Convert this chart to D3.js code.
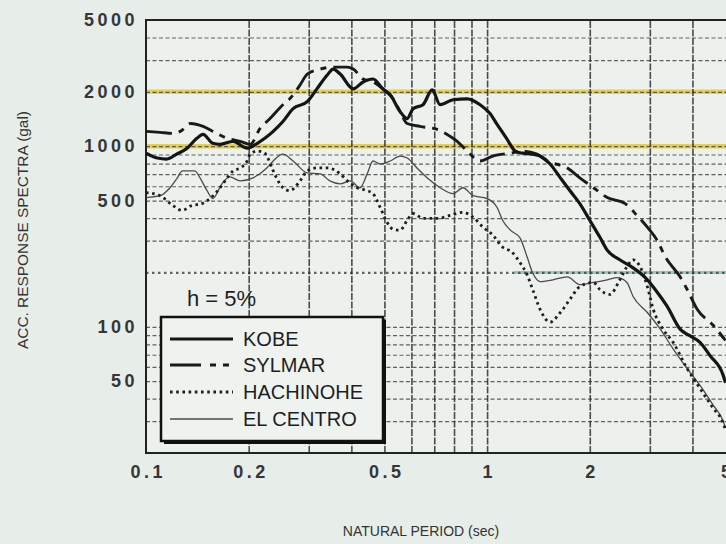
<!DOCTYPE html>
<html>
<head>
<meta charset="utf-8">
<script src="https://cdn.jsdelivr.net/npm/d3@7"></script>
<style>
  html, body { margin: 0; padding: 0; background: #e7ede8; }
  svg { display: block; }
  text { font-family: "Liberation Sans", Arial, Helvetica, sans-serif; }
</style>
</head>
<body>
<svg id="chart" width="726" height="544"></svg>
<script>
// Acceleration response spectra (h = 5%) of four strong-motion records.
// Period in seconds, spectral acceleration in gal.

const periodKobe = [0.10, 0.108, 0.115, 0.123, 0.132, 0.141, 0.147, 0.157, 0.165, 0.180, 0.198, 0.212, 0.223, 0.236, 0.252, 0.270, 0.297, 0.317, 0.340, 0.354, 0.371, 0.405, 0.433, 0.463, 0.495, 0.520, 0.556, 0.583, 0.607, 0.649, 0.690, 0.728, 0.795, 0.874, 0.954, 1.02, 1.07, 1.14, 1.21, 1.27, 1.36, 1.43, 1.53, 1.64, 1.75, 1.87, 2.00, 2.14, 2.25, 2.45, 2.68, 2.91, 3.11, 3.37, 3.68, 3.94, 4.21, 4.51, 4.92, 5.0];
const accKobe    = [915, 860, 849, 904, 975, 1106, 1163, 1038, 1025, 1065, 975, 1038, 1106, 1208, 1370, 1614, 1764, 2077, 2478, 2673, 2509, 2077, 2269, 2356, 2077, 1926, 1554, 1423, 1614, 1698, 2051, 1698, 1808, 1831, 1698, 1516, 1320, 1106, 939, 915, 904, 882, 797, 668, 567, 481, 389, 314, 266, 235, 212, 187, 161, 130, 97, 89, 82, 69, 54, 49];

const periodSylmar = [0.10, 0.110, 0.120, 0.126, 0.135, 0.147, 0.159, 0.173, 0.189, 0.202, 0.216, 0.231, 0.252, 0.264, 0.283, 0.297, 0.324, 0.354, 0.389, 0.405, 0.433, 0.463, 0.495, 0.530, 0.556, 0.583, 0.636, 0.714, 0.779, 0.817, 0.874, 0.954, 1.04, 1.17, 1.28, 1.40, 1.50, 1.72, 1.87, 2.05, 2.25, 2.54, 2.75, 2.95, 3.15, 3.33, 3.68, 3.86, 4.13, 4.60, 5.0];
const accSylmar    = [1208, 1193, 1178, 1208, 1336, 1287, 1193, 1106, 1065, 1025, 1254, 1423, 1698, 1831, 2185, 2509, 2673, 2740, 2740, 2673, 2356, 2269, 2077, 1831, 1554, 1336, 1287, 1239, 1134, 1065, 939, 828, 882, 915, 939, 904, 828, 758, 668, 589, 520, 481, 414, 356, 302, 244, 189, 161, 125, 102, 84];

const periodHachinohe = [0.10, 0.110, 0.120, 0.1275, 0.136, 0.146, 0.154, 0.165, 0.173, 0.180, 0.189, 0.198, 0.202, 0.212, 0.223, 0.234, 0.242, 0.252, 0.264, 0.283, 0.297, 0.317, 0.340, 0.371, 0.389, 0.416, 0.445, 0.463, 0.486, 0.509, 0.530, 0.556, 0.583, 0.607, 0.649, 0.714, 0.779, 0.850, 0.910, 0.973, 1.04, 1.11, 1.18, 1.25, 1.31, 1.36, 1.43, 1.53, 1.64, 1.75, 1.87, 2.05, 2.14, 2.29, 2.45, 2.57, 2.68, 2.81, 2.95, 3.07, 3.28, 3.51, 3.86, 4.21, 4.60, 4.89, 5.0];
const accHachinohe    = [553, 532, 469, 441, 469, 481, 513, 589, 668, 730, 758, 828, 904, 939, 915, 758, 660, 589, 567, 643, 730, 758, 758, 703, 643, 589, 567, 546, 458, 379, 347, 343, 389, 424, 398, 398, 414, 430, 404, 356, 322, 276, 260, 226, 194, 161, 125, 106, 120, 142, 167, 176, 161, 151, 182, 215, 235, 215, 167, 125, 97, 82, 58.7, 45.6, 35.4, 30.1, 26.9];

const periodElCentro = [0.10, 0.110, 0.1176, 0.123, 0.128, 0.139, 0.144, 0.151, 0.157, 0.167, 0.176, 0.189, 0.206, 0.226, 0.236, 0.252, 0.270, 0.297, 0.324, 0.346, 0.371, 0.397, 0.424, 0.445, 0.463, 0.486, 0.520, 0.556, 0.583, 0.623, 0.667, 0.728, 0.795, 0.850, 0.910, 1.00, 1.07, 1.11, 1.17, 1.25, 1.31, 1.36, 1.43, 1.56, 1.72, 1.87, 2.05, 2.25, 2.41, 2.57, 2.68, 2.95, 3.22, 3.51, 3.86, 4.21, 4.60, 4.92, 5.0];
const accElCentro    = [519, 532, 589, 660, 730, 730, 668, 567, 513, 619, 677, 643, 668, 758, 828, 904, 828, 712, 703, 643, 619, 643, 589, 703, 828, 797, 828, 882, 860, 758, 668, 589, 546, 589, 532, 513, 458, 389, 343, 310, 244, 199, 178, 182, 189, 171, 176, 182, 187, 176, 147, 120, 97, 75.5, 58.7, 47.3, 36.8, 30.1, 27.5];

const xTickLabels = [0.1, 0.2, 0.5, 1, 2, 5];
const yTickLabels = [50, 100, 500, 1000, 2000, 5000];
const xGridValues = [0.2, 0.3, 0.4, 0.5, 0.6, 0.7, 0.8, 0.9, 1, 2, 3, 4];
const yGridValues = [30, 40, 50, 60, 70, 80, 90, 100, 200, 300, 400, 500, 600, 700, 800, 900, 1000, 2000, 3000, 4000];
const highlightLevels = [1000, 2000];
const referenceLevel = 200;
const legendNames = ["KOBE", "SYLMAR", "HACHINOHE", "EL CENTRO"];

(function drawChart() {
  const records = [
    { name: legendNames[0], period: periodKobe, acc: accKobe, stroke: "#151515", width: 3.2, dash: null },
    { name: legendNames[1], period: periodSylmar, acc: accSylmar, stroke: "#1a1a1a", width: 2.9, dash: "26,7,6,7" },
    { name: legendNames[2], period: periodHachinohe, acc: accHachinohe, stroke: "#1e1e1e", width: 2.8, dash: "2.6,3.6" },
    { name: legendNames[3], period: periodElCentro, acc: accElCentro, stroke: "#4a4a4a", width: 1.3, dash: null }
  ];

  const W = 726, H = 544;
  const plotLeft = 146, plotRight = 725.5, plotTop = 20, plotBottom = 453;

  const x = d3.scaleLog().domain([0.1, 5]).range([plotLeft, plotRight]);
  const y = d3.scaleLog().domain([20, 5000]).range([plotBottom, plotTop]);

  const svg = d3.select("#chart");
  svg.append("rect").attr("width", W).attr("height", H).attr("fill", "#e7ede8");
  svg.append("rect").attr("x", plotLeft).attr("y", plotTop)
    .attr("width", W - plotLeft).attr("height", plotBottom - plotTop).attr("fill", "#edf1ed");

  // highlighted levels (yellow bands)
  svg.append("g").selectAll("line").data(highlightLevels).join("line")
    .attr("x1", plotLeft).attr("x2", W).attr("y1", d => y(d)).attr("y2", d => y(d))
    .attr("stroke", "#e2cf58").attr("stroke-width", 4.5);

  // teal band on the 200 gal level
  svg.append("line")
    .attr("x1", x(1.2)).attr("x2", W).attr("y1", y(referenceLevel)).attr("y2", y(referenceLevel))
    .attr("stroke", "#4eaa96").attr("stroke-width", 3).attr("opacity", 0.55);

  // horizontal grid
  const gy = svg.append("g").attr("transform", `translate(${plotLeft},0)`)
    .call(d3.axisLeft(y).tickValues(yGridValues).tickSize(-(W - plotLeft)).tickFormat(""));
  gy.select(".domain").remove();
  gy.selectAll(".tick line")
    .attr("stroke", "#3c3c3c")
    .attr("stroke-dasharray", d => d === referenceLevel ? "2.5,3.5" : "4,2.5")
    .attr("stroke-width", d => d === referenceLevel ? 2.2 : 1.2)
    .attr("opacity", 0.8);

  // vertical grid
  const gx = svg.append("g").attr("transform", `translate(0,${plotBottom})`)
    .call(d3.axisBottom(x).tickValues(xGridValues).tickSize(-(plotBottom - plotTop)).tickFormat(""));
  gx.select(".domain").remove();
  gx.selectAll(".tick line")
    .attr("stroke", "#2e2e2e").attr("stroke-width", 1.6)
    .attr("stroke-dasharray", "7,1.5").attr("opacity", 0.85);

  // frame
  svg.append("path")
    .attr("d", `M${W},${plotTop}H${plotLeft}V${plotBottom}H${W}`)
    .attr("fill", "none").attr("stroke", "#222").attr("stroke-width", 2);

  // spectra
  svg.append("clipPath").attr("id", "plotClip").append("rect")
    .attr("x", plotLeft).attr("y", plotTop).attr("width", W - plotLeft).attr("height", plotBottom - plotTop);

  const line = d3.line().x(d => x(d[0])).y(d => y(d[1])).curve(d3.curveMonotoneX);
  const curves = svg.append("g").attr("clip-path", "url(#plotClip)");
  records.slice().reverse().forEach(r => {
    curves.append("path")
      .datum(r.period.map((p, i) => [p, r.acc[i]]))
      .attr("d", line)
      .attr("fill", "none")
      .attr("stroke", r.stroke)
      .attr("stroke-width", r.width)
      .attr("stroke-linejoin", "round")
      .attr("stroke-dasharray", r.dash);
  });

  // tick labels
  const yAxis = svg.append("g").attr("transform", `translate(${plotLeft},0)`)
    .call(d3.axisLeft(y).tickValues(yTickLabels).tickSize(0).tickPadding(8).tickFormat(d3.format("d")));
  yAxis.select(".domain").remove();
  yAxis.selectAll("text")
    .attr("font-size", 18).attr("font-weight", "bold").attr("letter-spacing", "3.5px").attr("fill", "#363636")
    .style("font-family", '"Liberation Sans", Arial, sans-serif');

  const xAxis = svg.append("g").attr("transform", `translate(0,${plotBottom})`)
    .call(d3.axisBottom(x).tickValues(xTickLabels).tickSize(0).tickPadding(12)
      .tickFormat(d => d < 1 ? d.toFixed(1) : String(d)));
  xAxis.select(".domain").remove();
  xAxis.selectAll("text")
    .attr("font-size", 18).attr("font-weight", "bold").attr("letter-spacing", "3.5px").attr("dx", "1.75").attr("fill", "#363636")
    .style("font-family", '"Liberation Sans", Arial, sans-serif');

  // axis titles
  svg.append("text")
    .attr("transform", "translate(28,230) rotate(-90)")
    .attr("text-anchor", "middle").attr("font-size", 14).attr("fill", "#333")
    .attr("textLength", 238).attr("lengthAdjust", "spacingAndGlyphs")
    .text("ACC. RESPONSE SPECTRA (gal)");

  svg.append("text")
    .attr("x", 421).attr("y", 536)
    .attr("text-anchor", "middle").attr("font-size", 14).attr("fill", "#333")
    .text("NATURAL PERIOD (sec)");

  // damping note
  svg.append("text")
    .attr("x", 187).attr("y", 306)
    .attr("font-size", 22).attr("fill", "#1e1e1e")
    .text("h = 5%");

  // legend
  const lg = svg.append("g");
  lg.append("rect").attr("x", 164).attr("y", 320).attr("width", 222).attr("height", 124).attr("fill", "#111");
  lg.append("rect").attr("x", 161).attr("y", 317).attr("width", 222).attr("height", 124)
    .attr("fill", "#eff3ef").attr("stroke", "#111").attr("stroke-width", 2.5);

  const rowY = [339, 365, 392, 419];
  records.forEach((r, i) => {
    lg.append("line")
      .attr("x1", 170).attr("x2", 233).attr("y1", rowY[i]).attr("y2", rowY[i])
      .attr("stroke", r.stroke).attr("stroke-width", r.width)
      .attr("stroke-dasharray", i === 1 ? "31,9,6,7,6" : r.dash);
    lg.append("text")
      .attr("x", 243).attr("y", rowY[i] + 7)
      .attr("font-size", 20).attr("fill", "#1e1e1e")
      .text(r.name);
  });
})();
</script>
</body>
</html>
